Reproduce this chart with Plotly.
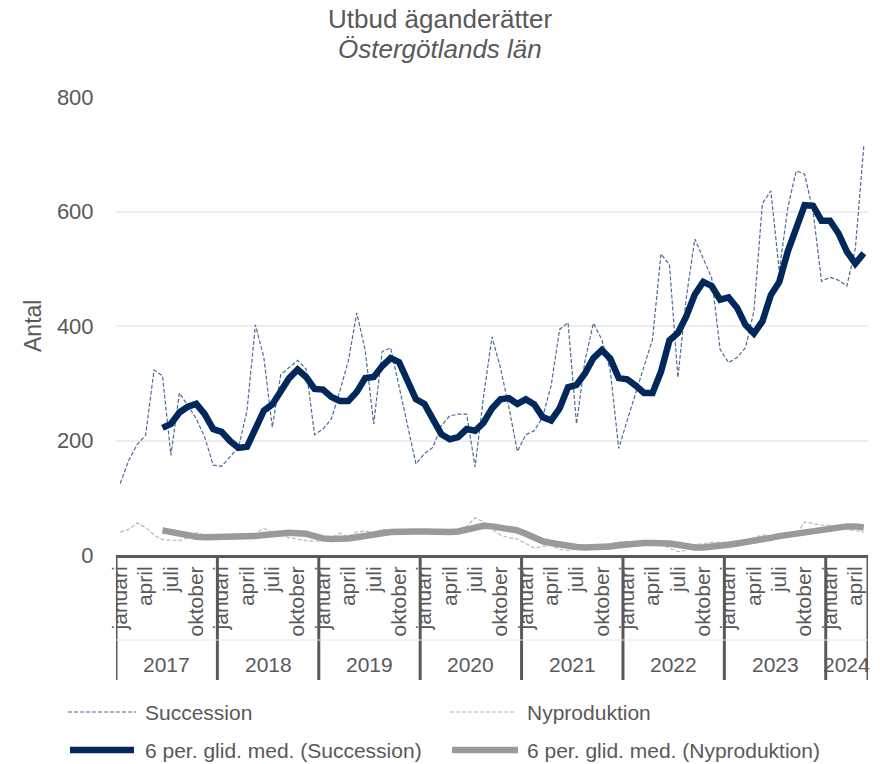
import plotly.graph_objects as go

# Monthly supply of owner-occupied homes, Östergötlands län, Jan 2017 - May 2024
years = ["2017", "2018", "2019", "2020", "2021", "2022", "2023", "2024"]
month_names = ["januari", "februari", "mars", "april", "maj", "juni", "juli",
               "augusti", "september", "oktober", "november", "december"]

succession = [
    125, 165, 193, 209, 323, 313, 174, 283, 261, 238, 206, 157,   # 2017
    155, 171, 188, 252, 402, 345, 223, 315, 327, 340, 325, 210,   # 2018
    220, 238, 287, 339, 423, 357, 229, 355, 362, 293, 223, 159,   # 2019
    177, 188, 226, 243, 246, 246, 154, 277, 381, 327, 258, 181,   # 2020
    210, 217, 241, 296, 394, 406, 229, 339, 405, 376, 322, 186,   # 2021
    235, 281, 330, 377, 526, 507, 310, 450, 552, 517, 484, 359,   # 2022
    336, 345, 362, 426, 614, 636, 496, 606, 671, 665, 600, 478,   # 2023
    485, 480, 470, 535, 714,                                      # 2024
]

nyproduktion = [
    40, 45, 56, 48, 35, 27, 26, 25, 30, 39, 35, 30,
    28, 30, 35, 33, 38, 46, 40, 35, 30, 28, 25, 24,
    25, 30, 38, 32, 40, 42, 38, 45, 42, 43, 38, 40,
    38, 40, 45, 42, 45, 50, 65, 58, 45, 35, 30, 28,
    20, 12, 15, 17, 10, 8, 12, 14, 13, 18, 20, 22,
    24, 20, 22, 18, 20, 12, 6, 8, 18, 20, 22, 22,
    22, 25, 24, 30, 35, 33, 35, 38, 35, 58, 55, 52,
    52, 50, 45, 42, 40,
]

# 6-month moving averages (first five months have no value)
ma_succession = [
    None, None, None, None, None, 222, 229, 249, 259, 264, 246, 220,
    215, 199, 187, 189, 220, 252, 263, 286, 309, 324, 311, 290,
    289, 276, 269, 269, 285, 309, 311, 330, 344, 337, 304, 272,
    264, 236, 211, 202, 206, 220, 217, 231, 256, 272, 274, 264,
    272, 263, 241, 235, 256, 293, 297, 317, 344, 358, 343, 309,
    307, 296, 283, 283, 320, 375, 388, 417, 455, 477, 470, 446,
    450, 432, 402, 387, 408, 454, 477, 530, 574, 611, 610, 584,
    584, 562, 530, 509, 527,
]

ma_nyproduktion = [
    None, None, None, None, None, 43, 40, 37, 34, 32, 31, 31,
    31, 32, 32, 32, 33, 35, 37, 39, 39, 38, 37, 33,
    29, 28, 28, 29, 31, 34, 37, 38, 40, 41, 41, 41,
    41, 40, 40, 40, 41, 44, 48, 51, 50, 47, 45, 43,
    37, 30, 24, 21, 18, 15, 14, 13, 13, 14, 15, 17,
    19, 20, 21, 21, 21, 20, 18, 15, 13, 13, 14, 16,
    18, 20, 22, 25, 28, 30, 33, 35, 37, 39, 42, 45,
    47, 49, 50, 50, 48,
]

y_ticks = [0, 200, 400, 600, 800]
shown_months = ["januari", "april", "juli", "oktober"]

TEXT = "#595959"
FONT = "Liberation Sans, Arial, sans-serif"
NAVY = "#00285A"
SLATE = "#4F6A96"
GREY_MA = "#9A9A9A"
GREY_RAW = "#B8B8B8"
DASH = "4px,2px"

n = len(succession)
x = list(range(n))
month_of = [month_names[i % 12] for i in x]
year_of = [years[i // 12] for i in x]

# plot-area geometry in pixels (used to place annotations in paper units)
W, H = 880, 764
L, R, T, B = 116, 12, 97, 209
pw, ph = W - L - R, H - T - B


def px_x(p):
    return (p - L) / pw


def px_y(p):
    return (H - B - p) / ph


fig = go.Figure()
fig.add_trace(go.Scatter(x=x, y=succession, mode="lines", name="Succession",
                         line=dict(color=SLATE, width=1.2, dash=DASH)))
fig.add_trace(go.Scatter(x=x, y=nyproduktion, mode="lines", name="Nyproduktion",
                         line=dict(color=GREY_RAW, width=1.2, dash=DASH)))
fig.add_trace(go.Scatter(x=x, y=ma_succession, mode="lines",
                         name="6 per. glid. med. (Succession)",
                         line=dict(color=NAVY, width=6.5)))
fig.add_trace(go.Scatter(x=x, y=ma_nyproduktion, mode="lines",
                         name="6 per. glid. med. (Nyproduktion)",
                         line=dict(color=GREY_MA, width=6.5)))

tick_idx = [i for i in x if month_of[i] in shown_months]

shapes = []
annotations = []


def label(xv, yv, text, size, xref="paper", xanchor="center", angle=0):
    annotations.append(dict(x=xv, y=yv, xref=xref, yref="paper", text=text,
                            showarrow=False, xanchor=xanchor, yanchor="middle",
                            textangle=angle,
                            font=dict(family=FONT, size=size, color=TEXT)))


# year dividers and year labels below the month labels
year_starts = [i for i in x if i % 12 == 0]
bounds = [s - 0.5 for s in year_starts] + [n - 0.5]
for b in bounds:
    shapes.append(dict(type="line", xref="x", yref="paper", x0=b, x1=b,
                       y0=0, y1=px_y(680), line=dict(color=TEXT, width=3)))
for k, s in enumerate(year_starts):
    label((s - 0.5 + bounds[k + 1]) / 2, px_y(664), year_of[s], 21, xref="x")

# faint line separating month level from year level
shapes.append(dict(type="line", xref="paper", yref="paper", x0=0, x1=1,
                   y0=px_y(640), y1=px_y(640), line=dict(color="#E6E6E6", width=1)))

# titles
label(px_x(440), px_y(19), "Utbud äganderätter", 26)
label(px_x(440), px_y(49), "<i>Östergötlands län</i>", 26)
label(px_x(33), px_y(326), "Antal", 23, angle=-90)

# legend drawn as line samples and labels below the axis
legend_items = [
    ("Succession", SLATE, 1.2, DASH, 68, 136, 712, 143),
    ("Nyproduktion", GREY_RAW, 1.2, DASH, 450, 516, 712, 525),
    ("6 per. glid. med. (Succession)", NAVY, 6.5, "solid", 70, 134, 750, 143),
    ("6 per. glid. med. (Nyproduktion)", GREY_MA, 6.5, "solid", 452, 518, 750, 525),
]
for text, col, wdt, dsh, xa, xb, yy, xt in legend_items:
    shapes.append(dict(type="line", xref="paper", yref="paper",
                       x0=px_x(xa), x1=px_x(xb), y0=px_y(yy), y1=px_y(yy),
                       line=dict(color=col, width=wdt, dash=dsh)))
    label(px_x(xt), px_y(yy), text, 21, xanchor="left")

fig.update_layout(
    width=W, height=H,
    margin=dict(l=L, r=R, t=T, b=B),
    paper_bgcolor="white", plot_bgcolor="white",
    showlegend=False,
    font=dict(family=FONT, color=TEXT),
    shapes=shapes,
    annotations=annotations,
    xaxis=dict(
        range=[-0.5, n - 0.5],
        tickmode="array", tickvals=tick_idx, ticktext=[month_of[i] for i in tick_idx],
        tickangle=-90, tickfont=dict(family=FONT, size=21, color=TEXT),
        ticks="", showgrid=False, zeroline=False,
        showline=True, linecolor=TEXT, linewidth=3,
    ),
    yaxis=dict(
        range=[0, 800], tickmode="array", tickvals=y_ticks,
        tickfont=dict(family=FONT, size=22, color=TEXT),
        ticks="outside", ticklen=17, tickcolor="rgba(0,0,0,0)",
        showgrid=True, gridcolor="#EDEDED", gridwidth=2,
        zeroline=False, showline=False,
    ),
)

fig.write_html("out.html")
